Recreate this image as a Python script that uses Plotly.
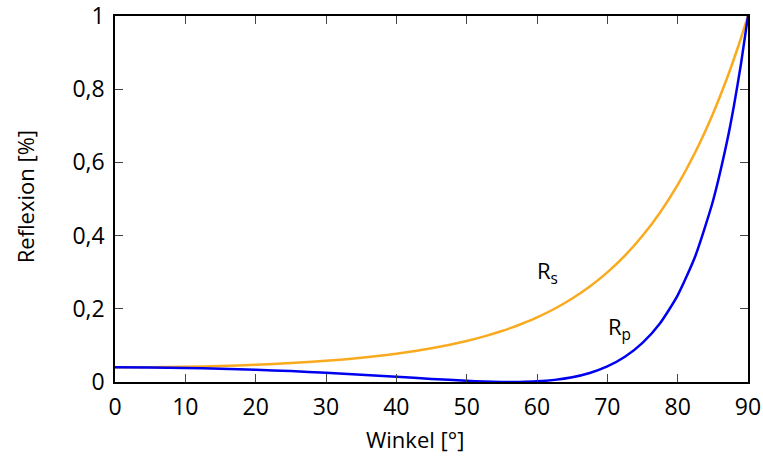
import plotly.graph_objects as go

# Angle of incidence in degrees
winkel = [0, 5, 10, 15, 20, 25, 30, 35, 40, 45, 50, 52.5, 55, 56.3, 57.5, 60,
          62.5, 65, 67.5, 70, 72.5, 75, 77.5, 80, 82.5, 85, 87, 88, 89, 90]

# s-polarised reflectance
r_s = [0.040, 0.0404, 0.0417, 0.0438, 0.0471, 0.0516, 0.0578, 0.0661, 0.0772,
       0.0920, 0.1121, 0.1246, 0.1393, 0.1479, 0.1565, 0.1766, 0.2002, 0.2281,
       0.2609, 0.2996, 0.3453, 0.3994, 0.4632, 0.5386, 0.6276, 0.7323, 0.8293,
       0.8826, 0.9395, 1.0]

# p-polarised reflectance
r_p = [0.040, 0.0396, 0.0384, 0.0363, 0.0335, 0.0298, 0.0253, 0.0200, 0.0143,
       0.0085, 0.0033, 0.0013, 0.0002, 0.0, 0.0002, 0.0018, 0.0058, 0.0130,
       0.0247, 0.0425, 0.0688, 0.1068, 0.1607, 0.2368, 0.3436, 0.4932, 0.6555,
       0.7548, 0.8689, 1.0]

x_ticks = [0, 10, 20, 30, 40, 50, 60, 70, 80, 90]
y_ticks = [0, 0.2, 0.4, 0.6, 0.8, 1]
y_ticktext = ["0", "0,2", "0,4", "0,6", "0,8", "1"]

FONT = "Open Sans"
TICK_SIZE = 23
TITLE_SIZE = 22

fig = go.Figure()
fig.add_trace(go.Scatter(x=winkel, y=r_s, mode="lines", name="Rs", cliponaxis=False,
                         line=dict(color="rgb(250,170,30)", width=2.5, shape="spline", smoothing=0.6)))
fig.add_trace(go.Scatter(x=winkel, y=r_p, mode="lines", name="Rp", cliponaxis=False,
                         line=dict(color="rgb(0,0,240)", width=2.5, shape="spline", smoothing=0.6)))

# Curve labels
fig.add_annotation(x=61.5, y=0.30, text="R<sub>s</sub>", showarrow=False,
                   font=dict(family=FONT, size=TITLE_SIZE, color="black"))
fig.add_annotation(x=71.7, y=0.148, text="R<sub>p</sub>", showarrow=False,
                   font=dict(family=FONT, size=TITLE_SIZE, color="black"))

# Axis titles
fig.add_annotation(x=0.474, y=-0.155, xref="paper", yref="paper", text="Winkel [°]",
                   showarrow=False, yanchor="middle",
                   font=dict(family=FONT, size=TITLE_SIZE, color="black"))
fig.add_annotation(x=-0.142, y=0.505, xref="paper", yref="paper", text="Reflexion [%]",
                   showarrow=False, textangle=-90, xanchor="center", yanchor="middle",
                   font=dict(family=FONT, size=TITLE_SIZE, color="black"))

axis_common = dict(
    showgrid=False, zeroline=False, showline=True, linecolor="black", linewidth=1.5,
    mirror="ticks", ticks="inside", ticklen=8, tickwidth=1.2, tickcolor="#444",
    tickfont=dict(family=FONT, size=TICK_SIZE, color="black"), automargin=False,
    ticklabeloverflow="allow",
)

fig.update_layout(
    width=763, height=456,
    margin=dict(l=115, r=15, t=16, b=74),
    paper_bgcolor="white", plot_bgcolor="white",
    showlegend=False,
    xaxis=dict(range=[0, 90], tickvals=x_ticks, ticklabelstandoff=4, **axis_common),
    yaxis=dict(range=[0, 1.0000001], tickvals=y_ticks, ticktext=y_ticktext,
               ticklabelstandoff=4, **axis_common),
)

fig.write_html("out.html")
